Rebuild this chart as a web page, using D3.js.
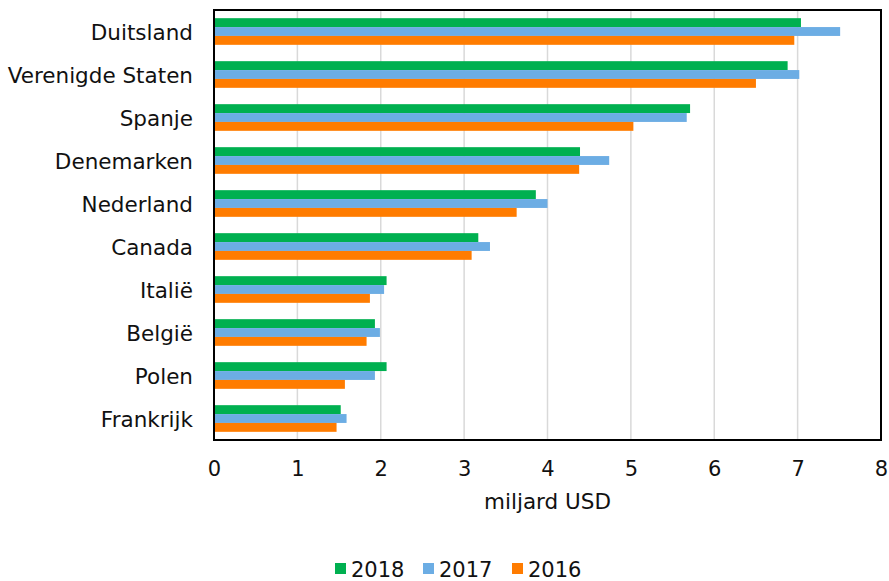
<!DOCTYPE html>
<html>
<head>
<meta charset="utf-8">
<script src="https://cdn.jsdelivr.net/npm/d3@7"></script>
<style>
  body { margin: 0; background: #fff; }
  svg text { font-family: "DejaVu Sans", Verdana, sans-serif; fill: #111; }
</style>
</head>
<body>
<div id="chart"></div>
<script>
// data (miljard USD)
const landen = ["Duitsland", "Verenigde Staten", "Spanje", "Denemarken", "Nederland",
  "Canada", "Italië", "België", "Polen", "Frankrijk"];
const jaren = ["2018", "2017", "2016"];
const waarden2018 = [7.04, 6.88, 5.71, 4.39, 3.86, 3.17, 2.07, 1.93, 2.07, 1.52];
const waarden2017 = [7.51, 7.02, 5.67, 4.74, 4.00, 3.31, 2.04, 1.99, 1.93, 1.59];
const waarden2016 = [6.96, 6.50, 5.03, 4.38, 3.63, 3.09, 1.87, 1.83, 1.57, 1.47];
const xTicks = [0, 1, 2, 3, 4, 5, 6, 7, 8];
const kleuren = ["#00B050", "#6CADE4", "#FF7C00"];

const w = 889, h = 581;
const plot = { left: 214, right: 881, top: 10, bottom: 440 };

const svg = d3.select("#chart").append("svg")
  .attr("width", w)
  .attr("height", h);

const xScale = d3.scaleLinear()
  .domain([0, 8])
  .range([plot.left, plot.right]);

const yScale = d3.scaleBand()
  .domain(landen)
  .range([plot.top, plot.bottom])
  .paddingInner(0.38)
  .paddingOuter(0.19);

const ySub = d3.scaleBand()
  .domain(jaren)
  .range([0, yScale.bandwidth()]);

// gridlines
svg.append("g")
  .selectAll("line")
  .data(xTicks.slice(1, -1))
  .enter()
  .append("line")
  .attr("x1", d => xScale(d))
  .attr("x2", d => xScale(d))
  .attr("y1", plot.top)
  .attr("y2", plot.bottom)
  .attr("stroke", "#d9d9d9")
  .attr("stroke-width", 1.5);

// bars
const reeksen = [waarden2018, waarden2017, waarden2016];
const rows = [];
landen.forEach((land, i) => {
  jaren.forEach((jaar, j) => {
    rows.push({ land: land, jaar: jaar, waarde: reeksen[j][i], kleur: kleuren[j] });
  });
});

svg.append("g")
  .selectAll("rect")
  .data(rows)
  .enter()
  .append("rect")
  .attr("x", xScale(0))
  .attr("y", d => yScale(d.land) + ySub(d.jaar))
  .attr("width", d => xScale(d.waarde) - xScale(0))
  .attr("height", ySub.bandwidth())
  .attr("fill", d => d.kleur);

// frame
svg.append("rect")
  .attr("x", plot.left)
  .attr("y", plot.top)
  .attr("width", plot.right - plot.left)
  .attr("height", plot.bottom - plot.top)
  .attr("fill", "none")
  .attr("stroke", "#000")
  .attr("stroke-width", 2);

// category labels
const yAxis = d3.axisLeft(yScale).tickSize(0).tickPadding(21);
svg.append("g")
  .attr("transform", "translate(" + plot.left + ",2)")
  .call(yAxis)
  .call(g => g.select(".domain").remove())
  .selectAll("text")
  .style("font-size", "21.5px")
  .attr("fill", "#111");

// x axis labels
const xAxis = d3.axisBottom(xScale).tickValues(xTicks).tickSize(0).tickPadding(21);
svg.append("g")
  .attr("transform", "translate(0," + plot.bottom + ")")
  .call(xAxis)
  .call(g => g.select(".domain").remove())
  .selectAll("text")
  .style("font-size", "21px")
  .attr("fill", "#111");

svg.append("text")
  .attr("x", (plot.left + plot.right) / 2)
  .attr("y", 509)
  .attr("text-anchor", "middle")
  .style("font-size", "21.5px")
  .text("miljard USD");

// legend
const legendX = [335, 423, 512];
const legend = svg.append("g").attr("class", "legend");
const items = legend.selectAll("g")
  .data(jaren)
  .enter()
  .append("g")
  .attr("transform", (d, i) => "translate(" + legendX[i] + ",563)");

items.append("rect")
  .attr("width", 11)
  .attr("height", 11)
  .attr("fill", (d, i) => kleuren[i]);

items.append("text")
  .attr("x", 16)
  .attr("y", 14)
  .style("font-size", "21px")
  .text(d => d);
</script>
</body>
</html>
